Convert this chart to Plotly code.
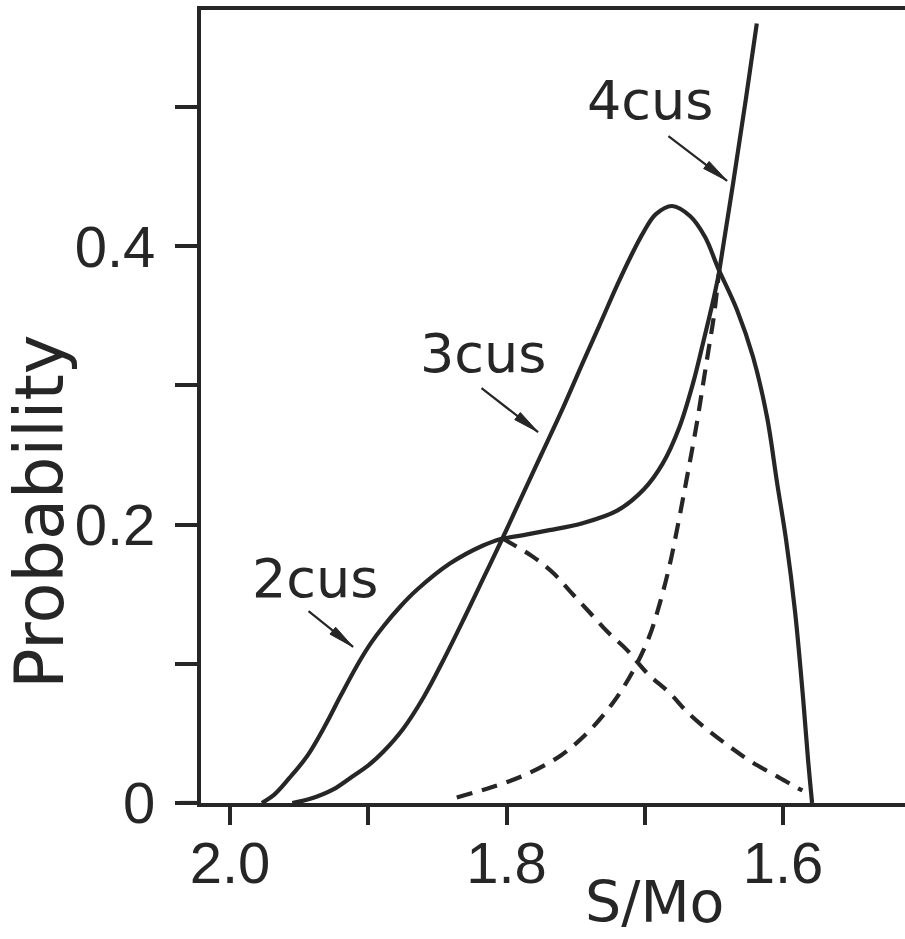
import math
import plotly.graph_objects as go

# ---- data ----
x_ticks = [2.0, 1.9, 1.8, 1.7, 1.6]
x_ticktext = ["2.0", "", "1.8", "", "1.6"]
y_ticks = [0.0, 0.1, 0.2, 0.3, 0.4, 0.5]
y_ticktext = ["0", "", "0.2", "", "0.4", ""]

cus2_solid_x = [1.977, 1.968, 1.957, 1.944, 1.931, 1.920, 1.908, 1.898, 1.889, 1.877, 1.865, 1.841, 1.817, 1.803]
cus2_solid_y = [0.000, 0.006, 0.018, 0.034, 0.056, 0.077, 0.099, 0.115, 0.127, 0.141, 0.153, 0.172, 0.185, 0.190]

cus2_dash_x = [1.803, 1.781, 1.766, 1.754, 1.740, 1.727, 1.713, 1.698, 1.682, 1.669, 1.654, 1.638, 1.622, 1.604, 1.590, 1.586]
cus2_dash_y = [0.190, 0.177, 0.165, 0.152, 0.137, 0.123, 0.110, 0.093, 0.079, 0.065, 0.052, 0.040, 0.029, 0.019, 0.011, 0.009]

cus3_x = [1.955, 1.942, 1.925, 1.913, 1.900, 1.889, 1.875, 1.860, 1.846, 1.831, 1.817, 1.803, 1.790,
          1.775, 1.760, 1.745, 1.732, 1.720, 1.710, 1.701, 1.692, 1.6803, 1.6673, 1.6564, 1.647,
          1.6333, 1.6217, 1.6116, 1.6043, 1.5978, 1.5913, 1.5854, 1.5819, 1.579]
cus3_y = [0.000, 0.003, 0.010, 0.018, 0.027, 0.037, 0.053, 0.076, 0.102, 0.132, 0.161, 0.190, 0.218,
          0.250, 0.282, 0.316, 0.345, 0.372, 0.393, 0.410, 0.423, 0.4289, 0.4217, 0.4066, 0.3843,
          0.3542, 0.3204, 0.2773, 0.2299, 0.1889, 0.1372, 0.074, 0.0309, 0.000]

cus4_dash_x = [1.836, 1.812, 1.787, 1.761, 1.741, 1.723, 1.709, 1.697, 1.689, 1.682, 1.676, 1.671, 1.6665, 1.662, 1.658, 1.654, 1.650, 1.6465]
cus4_dash_y = [0.004, 0.011, 0.020, 0.034, 0.051, 0.072, 0.094, 0.119, 0.144, 0.171, 0.200, 0.226, 0.250, 0.275, 0.300, 0.325, 0.350, 0.380]

cus4_solid_x = [1.6465, 1.636, 1.627, 1.619]
cus4_solid_y = [0.380, 0.446, 0.505, 0.560]

mid_x = [1.803, 1.785, 1.769, 1.745, 1.720, 1.701, 1.687, 1.675, 1.665, 1.658, 1.651, 1.6465]
mid_y = [0.190, 0.193, 0.196, 0.201, 0.210, 0.225, 0.244, 0.270, 0.302, 0.330, 0.359, 0.380]

labels = ["4cus", "3cus", "2cus"]
label_x = [1.696, 1.817, 1.9385]
label_y = [0.505, 0.323, 0.1616]
arrow_tail_x = [1.684, 1.8192, 1.9443]
arrow_tail_y = [0.480, 0.2989, 0.1387]
arrow_tip_x = [1.6405, 1.7772, 1.9110]
arrow_tip_y = [0.447, 0.2665, 0.1121]

X_RANGE = [2.021, 1.5118]
Y_RANGE = [0, 0.5697]
W, H = 905, 939
M = dict(l=201, r=0, t=10, b=136)

INK = "#262626"
LW = 4.2
DASH = "16px,10px"

fig = go.Figure()

def add(x, y, dash=None):
    fig.add_trace(go.Scatter(
        x=x, y=y, mode="lines",
        line=dict(color=INK, width=LW, shape="spline", smoothing=1.0, dash=dash),
        hoverinfo="skip", showlegend=False))

add(cus2_solid_x, cus2_solid_y)
add(cus2_dash_x, cus2_dash_y, DASH)
add(cus3_x, cus3_y)
add(cus4_dash_x, cus4_dash_y, DASH)
add(cus4_solid_x, cus4_solid_y)
add(mid_x, mid_y)

for t, lx, ly in zip(labels, label_x, label_y):
    fig.add_annotation(x=lx, y=ly, xref="x", yref="y", text=t, showarrow=False,
                       font=dict(family="DejaVu Sans", size=54, color=INK),
                       xanchor="center", yanchor="middle")

# scale (px per data unit) used only to orient the narrow arrowheads
sx = (W - M["l"] - M["r"]) / (X_RANGE[0] - X_RANGE[1])   # screen x grows as value falls
sy = (H - M["t"] - M["b"]) / (Y_RANGE[1] - Y_RANGE[0])
HEAD_LEN, HEAD_HALF = 26, 4.5

for tx, ty, hx, hy in zip(arrow_tail_x, arrow_tail_y, arrow_tip_x, arrow_tip_y):
    # shaft
    fig.add_annotation(x=hx, y=hy, ax=tx, ay=ty, xref="x", yref="y", axref="x", ayref="y",
                       text="", showarrow=True, arrowhead=0,
                       arrowwidth=2.2, arrowcolor=INK, standoff=0, startstandoff=0)
    # narrow filled head (pixel offsets relative to the tip, y upward)
    dx = (hx - tx) * sx * -1.0   # screen-right positive
    dy = (hy - ty) * sy          # up positive
    L = math.hypot(dx, dy)
    ux, uy = dx / L, dy / L
    nx, ny = -uy, ux
    bx, by = -HEAD_LEN * ux, -HEAD_LEN * uy
    p1 = (bx + HEAD_HALF * nx, by + HEAD_HALF * ny)
    p2 = (bx - HEAD_HALF * nx, by - HEAD_HALF * ny)
    path = f"M 0 0 L {p1[0]:.2f} {p1[1]:.2f} L {p2[0]:.2f} {p2[1]:.2f} Z"
    fig.add_shape(type="path", path=path, xref="x", yref="y",
                  xsizemode="pixel", ysizemode="pixel", xanchor=hx, yanchor=hy,
                  fillcolor=INK, line=dict(color=INK, width=1))

# axis titles
fig.add_annotation(x=-0.228, y=0.2095, xref="paper", yref="y", text="Probability",
                   textangle=-90, showarrow=False, xanchor="center", yanchor="middle",
                   font=dict(family="DejaVu Sans", size=67, color=INK))
fig.add_annotation(x=1.693, y=-0.125, xref="x", yref="paper", text="S/Mo",
                   showarrow=False, xanchor="center", yanchor="middle",
                   font=dict(family="DejaVu Sans", size=57, color=INK))

# x-axis line extends a little to the left of the y axis
fig.add_shape(type="line", xref="paper", yref="y", x0=-0.03, x1=0.0, y0=0, y1=0,
              line=dict(color=INK, width=LW))

fig.update_xaxes(range=X_RANGE, tickvals=x_ticks, ticktext=x_ticktext,
                 showline=True, linecolor=INK, linewidth=LW, mirror=True,
                 ticks="outside", ticklen=18, tickwidth=LW, tickcolor=INK,
                 showgrid=False, zeroline=False, ticklabelstandoff=-12,
                 tickfont=dict(family="Liberation Sans", size=58, color=INK))
fig.update_yaxes(range=Y_RANGE, tickvals=y_ticks, ticktext=y_ticktext,
                 showline=True, linecolor=INK, linewidth=LW, mirror=False,
                 ticks="outside", ticklen=22, tickwidth=LW, tickcolor=INK,
                 showgrid=False, zeroline=False, ticklabelstandoff=8,
                 tickfont=dict(family="Liberation Sans", size=58, color=INK))

fig.update_layout(width=W, height=H, margin=M,
                  paper_bgcolor="white", plot_bgcolor="white", showlegend=False)

fig.write_html("out.html")
